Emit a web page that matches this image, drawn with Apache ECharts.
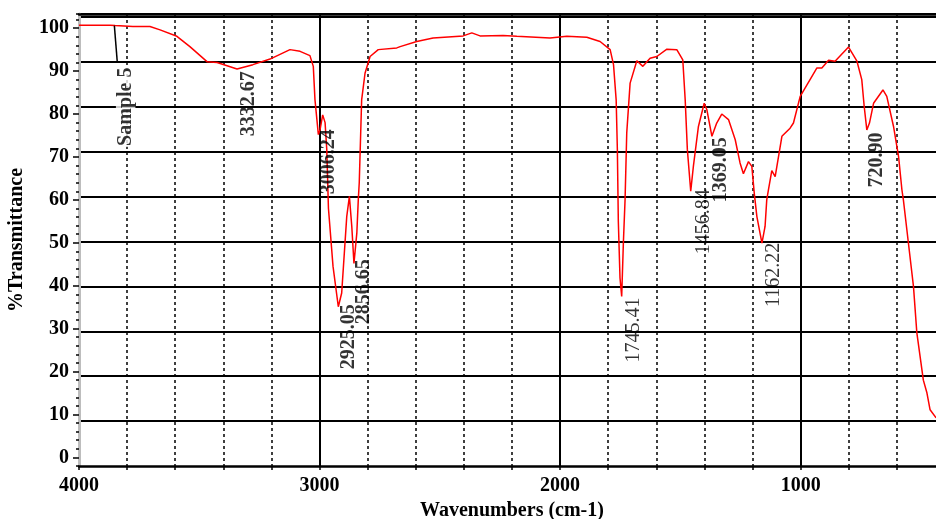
<!doctype html>
<html>
<head>
<meta charset="UTF-8">
<title>IR spectrum</title>
<script src="https://cdn.jsdelivr.net/npm/echarts@6/dist/echarts.min.js"></script>
<style>
  html, body { margin: 0; padding: 0; background: #fff; }
  #main { width: 936px; height: 519px; }
</style>
</head>
<body>
<div id="main"></div>
<script type="text/javascript">
// spectrum: wavenumber (cm-1) and % transmittance
var wavenumbers = [
  4000, 3871, 3850, 3776, 3705, 3663, 3593, 3539, 3468, 3426,
  3343, 3277, 3206, 3123, 3081, 3040, 3026, 3019, 3005, 2998,
  2987, 2977, 2970, 2963, 2944, 2922, 2908, 2887, 2876, 2866,
  2857, 2845, 2839, 2835, 2825, 2811, 2790, 2756, 2679, 2665,
  2596, 2528, 2403, 2367, 2333, 2237, 2180, 2042, 1972, 1889,
  1834, 1792, 1778, 1767, 1762, 1758, 1751, 1744, 1737, 1730,
  1723, 1709, 1681, 1656, 1626, 1598, 1556, 1515, 1490, 1480,
  1471, 1457, 1446, 1425, 1401, 1390, 1369, 1349, 1328, 1300,
  1272, 1252, 1238, 1217, 1203, 1193, 1182, 1161, 1148, 1141,
  1134, 1120, 1106, 1078, 1044, 1030, 1002, 961, 933, 912,
  884, 857, 801, 766, 746, 736, 725, 714, 697, 658,
  642, 614, 593, 579, 573, 552, 531, 517, 490, 475,
  462, 437
];
var transmittance = [
  100.7, 100.7, 100.6, 100.4, 100.4, 99.6, 98.1, 95.7, 92.2, 92.0,
  90.5, 91.5, 92.8, 95.0, 94.6, 93.6, 91.1, 83.3, 75.2, 76.3,
  79.8, 78.0, 71.7, 58.0, 44.5, 35.1, 38.3, 56.1, 60.8, 53.8,
  45.2, 52.3, 60.0, 64.0, 83.3, 89.5, 93.4, 95.0, 95.4, 95.7,
  96.9, 97.7, 98.2, 98.9, 98.2, 98.3, 98.1, 97.7, 98.1, 97.9,
  96.9, 95.0, 91.5, 83.3, 71.7, 55.0, 41.8, 37.5, 50.0, 60.0,
  75.6, 87.2, 92.4, 91.1, 93.0, 93.4, 95.1, 95.0, 92.6, 83.3,
  71.7, 62.0, 67.8, 77.1, 82.5, 81.0, 74.8, 77.9, 80.0, 78.7,
  74.0, 68.6, 66.1, 68.9, 67.8, 61.6, 56.1, 49.9, 53.8, 60.0,
  62.3, 66.8, 65.4, 74.8, 76.7, 77.9, 84.1, 88.0, 90.7, 90.7,
  92.5, 92.3, 95.6, 92.3, 88.0, 81.8, 76.3, 77.9, 82.5, 85.6,
  84.1, 77.1, 70.1, 62.3, 60.0, 49.9, 39.8, 29.0, 18.0, 15.0,
  11.1, 9.2
];

// peak annotations (text, where it sits in wavenumber / %T, bold or not)
var peakLabels = ['Sample 5', '3332.67', '3006.24', '2925.05', '2856.65', '1745.41', '1456.84', '1369.05', '1162.22', '720.90'];
var labelWn = [3805, 3293, 2960, 2877, 2815, 1692, 1401, 1331, 1110, 682];
var labelT = [81.7, 82.4, 68.9, 28.1, 38.6, 29.7, 54.9, 67.0, 42.5, 69.3];
var labelBold = [true, true, true, true, true, false, false, true, false, true];
// leader line from the curve to "Sample 5"
var leaderWn = [3853, 3841];
var leaderT = [100.6, 92.2];

var yTickLabels = [0, 10, 20, 30, 40, 50, 60, 70, 80, 90, 100];
var xTickLabels = [4000, 3000, 2000, 1000];

var serif = '"Liberation Serif", "Times New Roman", serif';

var spectrum = [];
for (var i = 0; i < wavenumbers.length; i++) {
  spectrum.push([wavenumbers[i], transmittance[i]]);
}
var notes = [];
for (var j = 0; j < peakLabels.length; j++) {
  notes.push({
    value: [labelWn[j], labelT[j]],
    name: peakLabels[j],
    label: {
      fontWeight: labelBold[j] ? 'bold' : 'normal',
      backgroundColor: j === 0 ? '#fff' : 'transparent'
    }
  });
}

var myChart = echarts.init(document.getElementById('main'));

var option = {
  backgroundColor: '#fff',
  animation: false,
  // the frame runs on past the right edge of the picture, down to 400 cm-1
  grid: { left: 79, top: 14, width: 866, bottom: 53, outerBoundsMode: 'none', containLabel: false },
  xAxis: [{
    type: 'value',
    inverse: true,
    min: 400,
    max: 4000,
    interval: 200,
    position: 'bottom',
    name: 'Wavenumbers (cm-1)',
    nameLocation: 'middle',
    nameGap: 31,
    nameTextStyle: { fontFamily: serif, fontWeight: 'bold', fontSize: 20, color: '#000' },
    axisLine: { onZero: false, lineStyle: { color: '#000', width: 2.5 } },
    axisTick: { length: 4, lineStyle: { color: '#000', width: 1.5 } },
    axisLabel: {
      interval: 0,
      margin: 10,
      fontFamily: serif, fontWeight: 'bold', fontSize: 20, color: '#000',
      formatter: function (v) { return xTickLabels.indexOf(v) >= 0 ? String(v) : ''; }
    },
    splitLine: { show: true, showMaxLine: false, lineStyle: { color: '#000', width: 1.5, type: [3, 3] } }
  }, {
    // solid lines every 1000 cm-1, counted from the 4000 edge
    type: 'value',
    min: 0,
    max: 3600,
    interval: 1000,
    position: 'top',
    axisLine: { show: true, onZero: false, lineStyle: { color: '#000', width: 2.5 } },
    axisTick: { show: false },
    axisLabel: { show: false },
    splitLine: { show: true, showMinLine: false, lineStyle: { color: '#000', width: 2 } }
  }],
  yAxis: [{
    type: 'value',
    min: -2,
    max: 103.3,
    interval: 2,
    position: 'left',
    name: '%Transmittance',
    nameLocation: 'middle',
    nameRotate: 90,
    nameGap: 52,
    nameTextStyle: { fontFamily: serif, fontWeight: 'bold', fontSize: 20, color: '#000' },
    axisLine: { show: true, onZero: false, lineStyle: { color: '#bdbdbd', width: 3 } },
    axisTick: { length: 3, lineStyle: { color: '#000', width: 1.5 } },
    axisLabel: {
      interval: 0,
      margin: 10,
      fontFamily: serif, fontWeight: 'bold', fontSize: 20, color: '#000',
      formatter: function (v) { return yTickLabels.indexOf(v) >= 0 ? String(v) : ''; }
    },
    splitLine: { show: false }
  }, {
    // longer ticks at the labelled values
    type: 'value',
    min: -2,
    max: 103.3,
    position: 'left',
    axisLine: { show: false, onZero: false },
    axisTick: { show: true, length: 6, customValues: yTickLabels, lineStyle: { color: '#000', width: 1.5 } },
    axisLabel: { show: false },
    splitLine: { show: false }
  }, {
    // frame grid: ten equal rows up from the bottom
    type: 'value',
    min: 0,
    max: 10.067,
    interval: 1,
    position: 'right',
    axisLine: { show: false, onZero: false },
    axisTick: { show: false },
    axisLabel: { show: false },
    splitLine: { show: true, showMinLine: false, lineStyle: { color: '#000', width: 2 } }
  }],
  series: [{
    name: 'Sample 5',
    type: 'line',
    xAxisIndex: 0,
    yAxisIndex: 0,
    data: spectrum,
    showSymbol: false,
    symbol: 'none',
    lineStyle: { color: '#ff0000', width: 1.5 },
    z: 3
  }, {
    name: 'peaks',
    type: 'scatter',
    xAxisIndex: 0,
    yAxisIndex: 0,
    symbolSize: 0,
    data: notes,
    label: {
      show: true,
      position: 'inside',
      rotate: 90,
      align: 'center',
      verticalAlign: 'middle',
      fontFamily: serif,
      fontSize: 20,
      color: '#000',
      padding: [0, 1],
      formatter: function (p) { return p.name; }
    },
    markLine: {
      silent: true,
      symbol: 'none',
      label: { show: false },
      lineStyle: { color: '#000', width: 1.5, type: 'solid' },
      data: [[
        { coord: [leaderWn[0], leaderT[0]] },
        { coord: [leaderWn[1], leaderT[1]] }
      ]]
    },
    z: 4
  }]
};

myChart.setOption(option);
</script>
</body>
</html>
